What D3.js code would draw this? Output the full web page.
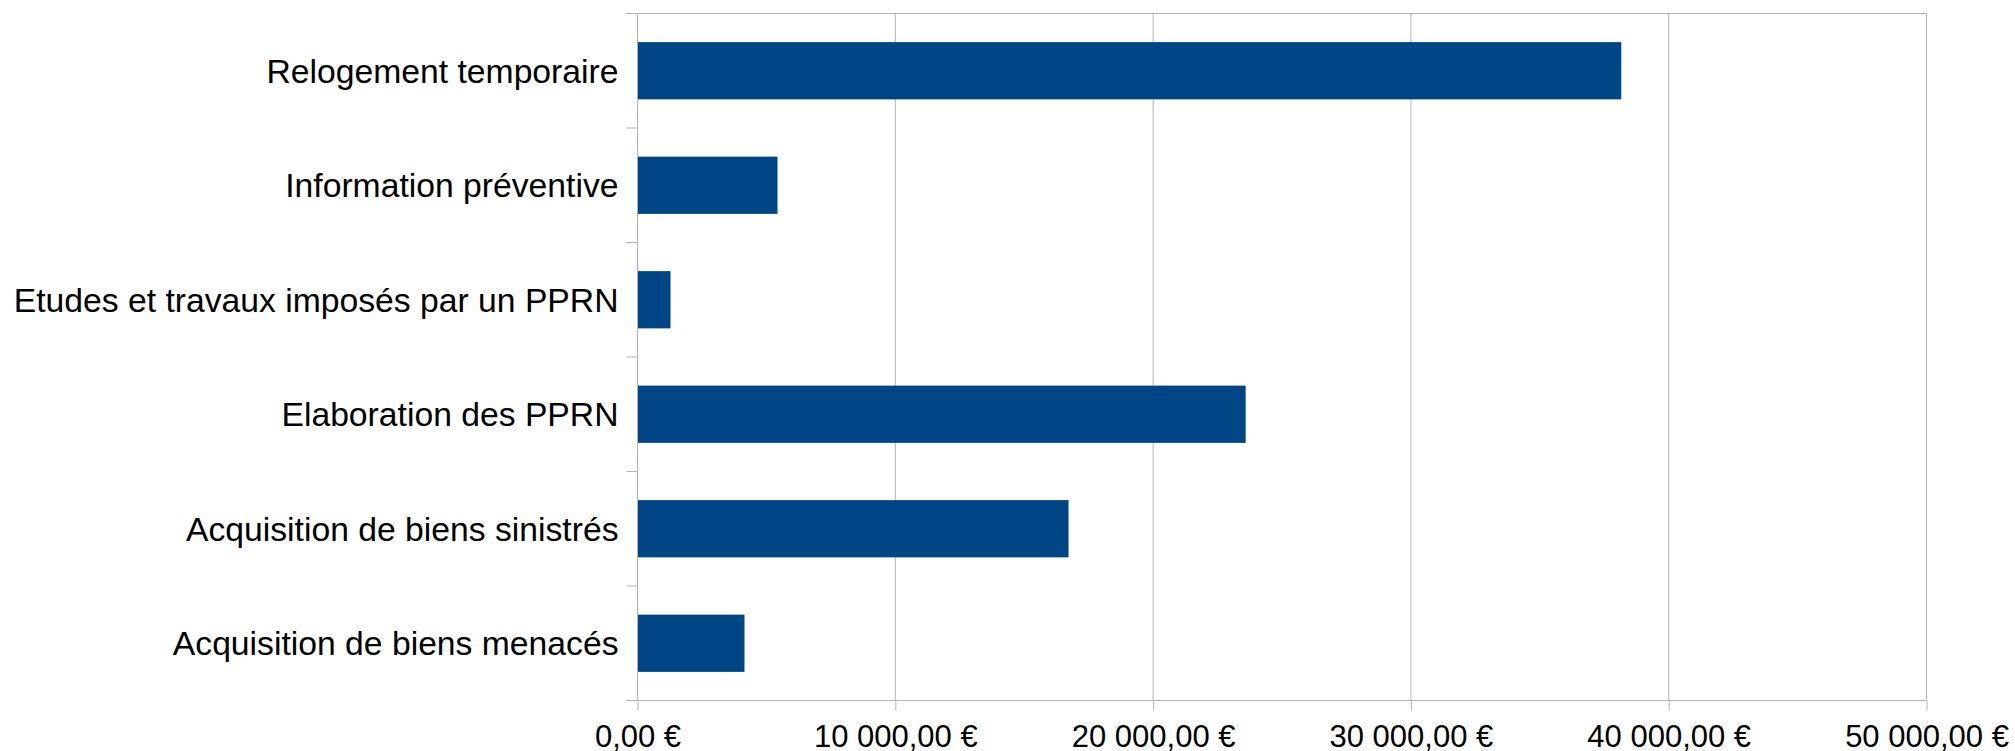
<!DOCTYPE html>
<html>
<head>
<meta charset="utf-8">
<script src="https://cdn.jsdelivr.net/npm/d3@7"></script>
<style>
  html, body { margin: 0; padding: 0; background: #fff; }
  svg { display: block; }
  text { font-family: "Liberation Sans", Arial, sans-serif; fill: #000; }
</style>
</head>
<body>
<svg id="chart" width="2015" height="751"></svg>
<script>
const categories = [
  "Relogement temporaire",
  "Information préventive",
  "Etudes et travaux imposés par un PPRN",
  "Elaboration des PPRN",
  "Acquisition de biens sinistrés",
  "Acquisition de biens menacés"
];
const values = [38160, 5430, 1280, 23590, 16720, 4150];
const tickValues = [0, 10000, 20000, 30000, 40000, 50000];

(function () {
const svg = d3.select("#chart");
const pLeft = 637.5, pRight = 1926.5, pTop = 13.5, pBottom = 700.5;
const gridColor = "#b3b3b3";
const barColor = "#004586";

const x = d3.scaleLinear().domain([0, 50000]).range([pLeft, pRight]);
const y = d3.scaleBand().domain(categories).range([pTop, pBottom]).paddingInner(0.5).paddingOuter(0.25);

const loc = d3.formatLocale({ decimal: ",", thousands: " ", grouping: [3], currency: ["", " €"] });
const fmt = loc.format(",.2f");

// vertical gridlines
svg.append("g").selectAll("line").data(tickValues).join("line")
  .attr("x1", d => x(d)).attr("x2", d => x(d))
  .attr("y1", pTop).attr("y2", pBottom)
  .attr("stroke", gridColor).attr("stroke-width", 1);

// top border
svg.append("line").attr("x1", pLeft - 11).attr("x2", pRight).attr("y1", pTop).attr("y2", pTop)
  .attr("stroke", gridColor).attr("stroke-width", 1);

// bars
svg.append("g").selectAll("rect").data(categories).join("rect")
  .attr("x", x(0))
  .attr("y", d => y(d))
  .attr("width", (d, i) => x(values[i]) - x(0))
  .attr("height", y.bandwidth())
  .attr("fill", barColor);

// x axis
const xAxis = d3.axisBottom(x).tickValues(tickValues).tickSize(10).tickPadding(10)
  .tickFormat(d => fmt(d) + " €");
const gx = svg.append("g").attr("transform", `translate(0,${pBottom})`).call(xAxis);
gx.select(".domain").attr("stroke", gridColor).attr("d", `M${pLeft - 11},0H${pRight}`);
gx.selectAll(".tick line").attr("stroke", gridColor);
gx.selectAll(".tick text").attr("font-size", "31px").attr("font-family", "Liberation Sans, Arial, sans-serif")
  .attr("fill", "#000").attr("y", 46).attr("dy", 0);

// y axis (category ticks at band boundaries)
const boundaries = d3.range(categories.length + 1).map(i => pTop + i * y.step());
svg.append("g").selectAll("line").data(boundaries).join("line")
  .attr("x1", pLeft - 11).attr("x2", pLeft)
  .attr("y1", d => d).attr("y2", d => d)
  .attr("stroke", gridColor);
svg.append("line").attr("x1", pLeft).attr("x2", pLeft).attr("y1", pTop).attr("y2", pBottom)
  .attr("stroke", gridColor);

svg.append("g").selectAll("text").data(categories).join("text")
  .attr("x", pLeft - 19)
  .attr("y", d => y(d) + y.bandwidth() / 2)
  .attr("dy", "0.35em")
  .attr("text-anchor", "end")
  .attr("font-size", "33.7px")
  .text(d => d);
})();
</script>
</body>
</html>
